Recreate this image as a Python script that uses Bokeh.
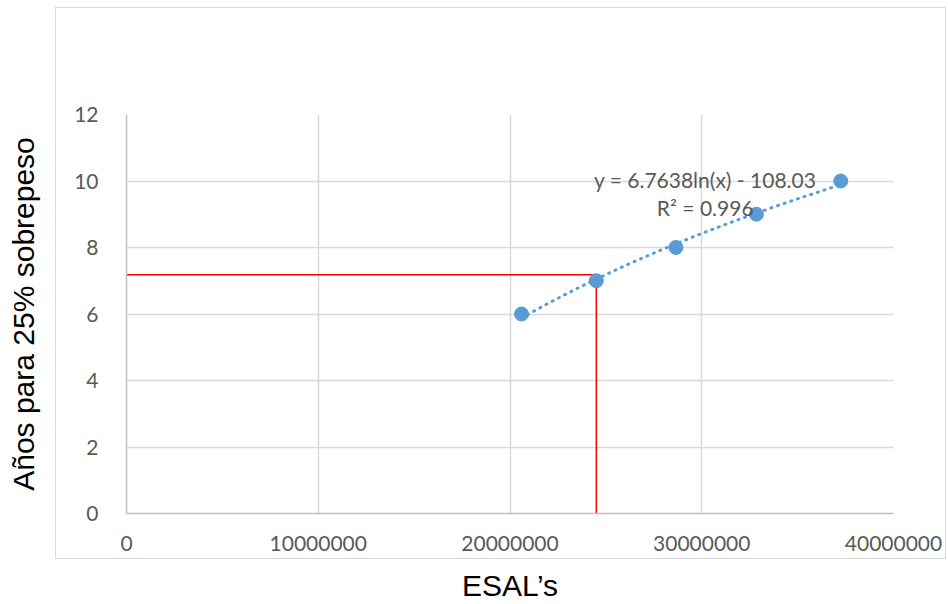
from bokeh.plotting import figure
from bokeh.models import Range1d, FixedTicker, NumeralTickFormatter, Label, InlineStyleSheet
from bokeh.embed import file_html
from bokeh.resources import INLINE
import numpy as np

# Data
esal = [20600000, 24500000, 28650000, 32850000, 37250000]
years = [6, 7, 8, 9, 10]
trend_a = 6.7638
trend_b = -108.03
ref_x = 24500000
ref_y = 7.18
x_ticks = [0, 10000000, 20000000, 30000000, 40000000]
y_ticks = [0, 2, 4, 6, 8, 10, 12]

BLUE = "#5b9bd5"
GRID = "#d9d9d9"
TICK_FONT = "Lato"

border_css = InlineStyleSheet(css="""
:host { position: relative; }
:host::after {
  content: "";
  position: absolute;
  left: 55px; top: 7px; width: 891px; height: 552px;
  border: 1.5px solid #d9d9d9;
  box-sizing: border-box;
  pointer-events: none;
}
""")

p = figure(width=948, height=604, output_backend="svg", toolbar_location=None,
           x_range=Range1d(0, 40000000), y_range=Range1d(0, 12),
           min_border_left=126, min_border_right=55, min_border_top=114, min_border_bottom=91,
           stylesheets=[border_css])
p.outline_line_color = None
p.background_fill_color = "white"
p.border_fill_color = "white"

# grid
p.xgrid.ticker = FixedTicker(ticks=x_ticks)
p.ygrid.ticker = FixedTicker(ticks=y_ticks)
p.xgrid.grid_line_color = GRID
p.ygrid.grid_line_color = GRID
p.xgrid.grid_line_width = 1.5
p.ygrid.grid_line_width = 1.5

for ax, ticks in ((p.xaxis[0], x_ticks), (p.yaxis[0], y_ticks)):
    ax.ticker = FixedTicker(ticks=ticks)
    ax.formatter = NumeralTickFormatter(format="0")
    ax.major_tick_line_color = None
    ax.minor_tick_line_color = None
    ax.axis_line_color = "#bfbfbf"
    ax.axis_line_width = 1.5
    ax.major_label_text_font = TICK_FONT
    ax.major_label_text_font_size = "21px"
    ax.major_label_text_color = "#595959"
    ax.axis_label_text_font = "Liberation Sans"
    ax.axis_label_text_font_size = "30px"
    ax.axis_label_text_font_style = "normal"
    ax.axis_label_text_color = "black"

p.xaxis.axis_label = "ESAL\u2019s"
p.yaxis.axis_label = "A\u00f1os para 25% sobrepeso"
p.xaxis.major_label_standoff = 16
p.xaxis.axis_label_standoff = 15
p.yaxis.major_label_standoff = 22
p.yaxis.axis_label_standoff = 31

# reference red lines
p.segment(x0=[0, ref_x], y0=[ref_y, ref_y], x1=[ref_x, ref_x], y1=[ref_y, 0],
          line_color="#ff0000", line_width=1.5)

# trendline from the displayed equation
tx = np.linspace(min(esal), max(esal), 200)
ty = trend_a * np.log(tx) + trend_b
p.line(tx, ty, line_color=BLUE, line_width=3, line_dash="1 6", line_cap="round")

# data points
p.scatter(esal, years, size=14, color=BLUE)

# trendline labels
p.add_layout(Label(x=30180000, y=10.035, text="y = 6.7638ln(x) - 108.03",
                   text_align="center", text_baseline="alphabetic",
                   text_font=TICK_FONT, text_font_size="21px", text_color="#595959"))
p.add_layout(Label(x=30180000, y=9.195, text="R\u00b2 = 0.996",
                   text_align="center", text_baseline="alphabetic",
                   text_font=TICK_FONT, text_font_size="21px", text_color="#595959"))

open("out.html", "w").write(file_html(p, INLINE))
